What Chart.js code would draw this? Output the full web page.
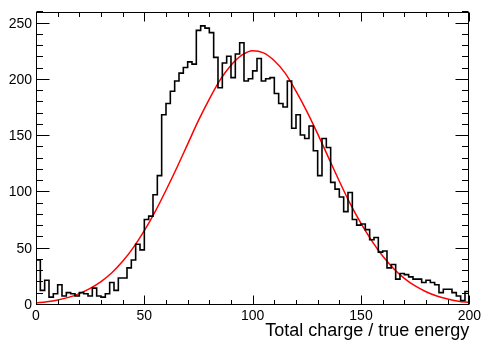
<!DOCTYPE html>
<html lang="en">
<head>
<meta charset="UTF-8">
<title>Total charge / true energy</title>
<style>
  body { margin: 0; background: #ffffff; }
  #wrap { width: 484px; height: 340px; }
</style>
</head>
<body>
<div id="wrap"><canvas id="histo" width="484" height="340"></canvas></div>

<script src="https://cdn.jsdelivr.net/npm/chart.js"></script>
<script>
// histogram: 100 bins of width 2 from 0 to 200 (counts)
const binStart = 0;
const binWidth = 2;
const counts = [
  40, 13, 22, 7, 10, 18, 8, 11, 10, 8,
  11, 10, 8, 15, 8, 7, 10, 20, 13, 24,
  24, 33, 40, 54, 49, 76, 79, 98, 115, 169,
  179, 190, 199, 206, 211, 216, 214, 244, 248, 246,
  242, 220, 193, 215, 221, 202, 223, 233, 199, 201,
  208, 219, 199, 201, 202, 188, 179, 176, 199, 157,
  169, 151, 148, 159, 137, 115, 148, 140, 109, 103,
  96, 83, 100, 76, 71, 72, 67, 58, 60, 47,
  48, 33, 36, 23, 28, 27, 25, 23, 23, 20,
  22, 20, 18, 11, 14, 14, 11, 8, 4, 12
];

// red fit curve, sampled every 5 units along x
const fitX = [0, 5, 10, 15, 20, 25, 30, 35, 40, 45, 50, 55, 60, 65, 70, 75, 80, 85, 90, 95,
  100, 105, 110, 115, 120, 125, 130, 135, 140, 145, 150, 155, 160, 165, 170, 175, 180, 185, 190, 195, 200];
const fitY = [1.8, 2.9, 4.5, 6.8, 10.1, 14.7, 20.8, 28.7, 38.8, 51.2, 66, 83, 102, 122, 143, 164, 183, 200, 213, 222,
  226, 224, 217, 206, 190, 172, 152, 131, 110, 90, 72.5, 57, 43.5, 32.5, 23.7, 16.9, 11.8, 8, 5.3, 3.4, 2.2];

// axes
const xMin = 0, xMax = 200, xMajor = 50, xMinor = 10;
const yMin = 0, yMax = 260, yMajor = 50, yMinor = 10;
const xTitle = 'Total charge / true energy';

const fontName = "'Liberation Sans', Arial, sans-serif";

// step points at the low edge of each bin, plus the closing edge
const histoPoints = counts.map((c, i) => ({ x: binStart + i * binWidth, y: c }));
histoPoints.push({ x: binStart + counts.length * binWidth, y: counts[counts.length - 1] });

const fitPoints = fitX.map((x, i) => ({ x: x, y: fitY[i] }));

// ROOT style frame with ticks pointing inwards on all four sides
const rootFrame = {
  id: 'rootFrame',
  afterDatasetsDraw(chart) {
    const ctx = chart.ctx;
    const a = chart.chartArea;
    const xs = chart.scales.x, ys = chart.scales.y;
    const left = Math.round(a.left) + 0.5, right = Math.round(a.right) - 0.5;
    const top = Math.round(a.top) + 0.5, bottom = Math.round(a.bottom) - 0.5;
    ctx.save();
    ctx.strokeStyle = '#000';
    ctx.lineWidth = 1;
    ctx.beginPath();
    for (let v = yMin; v <= yMax; v += yMinor) {
      const py = Math.round(ys.getPixelForValue(v)) - 0.5;
      const len = v % yMajor === 0 ? 13 : 6.5;
      ctx.moveTo(left, py); ctx.lineTo(left + len, py);
      ctx.moveTo(right, py); ctx.lineTo(right - len, py);
    }
    for (let v = xMin; v <= xMax; v += xMinor) {
      const px = Math.round(xs.getPixelForValue(v)) + 0.5;
      const len = v % xMajor === 0 ? 9 : 4.5;
      ctx.moveTo(px, bottom); ctx.lineTo(px, bottom - len);
      ctx.moveTo(px, top); ctx.lineTo(px, top + len);
    }
    ctx.stroke();
    ctx.strokeRect(left, top, right - left, bottom - top);
    ctx.restore();
  }
};

const histoChart = new Chart(document.getElementById('histo').getContext('2d'), {
  type: 'line',
  data: {
    datasets: [
      {
        label: 'histogram',
        data: histoPoints,
        borderColor: '#000000',
        borderWidth: 1.6,
        stepped: true,
        pointRadius: 0,
        fill: false
      },
      {
        label: 'fit',
        data: fitPoints,
        borderColor: '#ff0000',
        borderWidth: 1.5,
        cubicInterpolationMode: 'monotone',
        pointRadius: 0,
        fill: false
      }
    ]
  },
  options: {
    responsive: false,
    animation: false,
    devicePixelRatio: 1,
    layout: { padding: { left: 0, right: 13, top: 9, bottom: 0 } },
    plugins: {
      legend: { display: false },
      tooltip: { enabled: false }
    },
    scales: {
      x: {
        type: 'linear',
        min: xMin,
        max: xMax,
        afterFit: s => { s.height = 35; },
        grid: { display: false, drawTicks: false },
        border: { display: false },
        ticks: {
          stepSize: xMajor,
          autoSkip: false,
          maxRotation: 0,
          padding: 3,
          color: '#000',
          font: { family: fontName, size: 14 }
        },
        title: {
          display: true,
          text: xTitle,
          align: 'end',
          color: '#000',
          padding: { top: 0, bottom: 0 },
          font: { family: fontName, size: 18, lineHeight: 1.0 }
        }
      },
      y: {
        min: yMin,
        max: yMax,
        afterFit: s => { s.width = 36; },
        grid: { display: false, drawTicks: false },
        border: { display: false },
        ticks: {
          stepSize: yMajor,
          includeBounds: false,
          padding: 4,
          color: '#000',
          font: { family: fontName, size: 14 }
        }
      }
    }
  },
  plugins: [rootFrame]
});
</script>
</body>
</html>
